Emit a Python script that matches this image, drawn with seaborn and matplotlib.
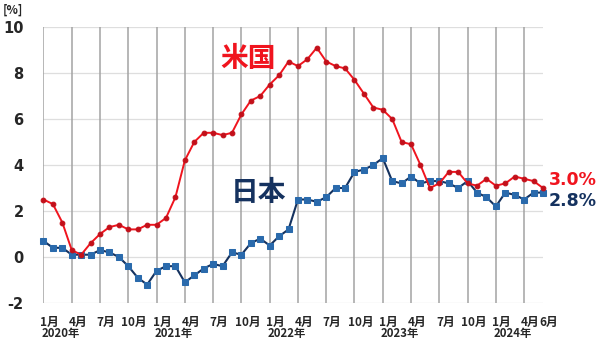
import matplotlib
matplotlib.use("Agg")
import matplotlib.pyplot as plt
import matplotlib.transforms as mtransforms
import pandas as pd
import seaborn as sns

# ---- data ----
years = [2020] * 12 + [2021] * 12 + [2022] * 12 + [2023] * 12 + [2024] * 6
month_nums = list(range(1, 13)) * 4 + list(range(1, 7))
us_cpi = [2.5, 2.3, 1.5, 0.3, 0.1, 0.6, 1.0, 1.3, 1.4, 1.2, 1.2, 1.4,
          1.4, 1.7, 2.6, 4.2, 5.0, 5.4, 5.4, 5.3, 5.4, 6.2, 6.8, 7.0,
          7.5, 7.9, 8.5, 8.3, 8.6, 9.1, 8.5, 8.3, 8.2, 7.7, 7.1, 6.5,
          6.4, 6.0, 5.0, 4.9, 4.0, 3.0, 3.2, 3.7, 3.7, 3.2, 3.1, 3.4,
          3.1, 3.2, 3.5, 3.4, 3.3, 3.0]
jp_cpi = [0.7, 0.4, 0.4, 0.1, 0.1, 0.1, 0.3, 0.2, 0.0, -0.4, -0.9, -1.2,
          -0.6, -0.4, -0.4, -1.1, -0.8, -0.5, -0.3, -0.4, 0.2, 0.1, 0.6, 0.8,
          0.5, 0.9, 1.2, 2.5, 2.5, 2.4, 2.6, 3.0, 3.0, 3.7, 3.8, 4.0,
          4.3, 3.3, 3.2, 3.5, 3.2, 3.3, 3.3, 3.2, 3.0, 3.3, 2.8, 2.6,
          2.2, 2.8, 2.7, 2.5, 2.8, 2.8]
series_names = ["米国", "日本"]
end_labels = ["3.0%", "2.8%"]
y_ticks = [-2, 0, 2, 4, 6, 8, 10]

idx = list(range(len(years)))
df = pd.DataFrame({
    "idx": idx * 2,
    "value": us_cpi + jp_cpi,
    "country": [series_names[0]] * len(idx) + [series_names[1]] * len(idx),
})

RED = "#f0141e"
RED_DARK = "#c3101a"
NAVY = "#15325f"
BLUE = "#2a6aac"
CJK = ["Noto Sans CJK JP", "DejaVu Sans"]

sns.set_style("white")
plt.rcParams["font.family"] = CJK

fig = plt.figure(figsize=(6.0, 3.42), dpi=100)
ax = fig.add_axes([43 / 600, 1 - 303 / 342, 500 / 600, 276 / 342])

sns.lineplot(data=df[df.country == series_names[0]], x="idx", y="value", ax=ax,
             color=RED, linewidth=1.4, marker="o", markersize=3.4,
             markeredgecolor=RED_DARK, markerfacecolor=RED_DARK,
             clip_on=False, zorder=4)
sns.lineplot(data=df[df.country == series_names[1]], x="idx", y="value", ax=ax,
             color=NAVY, linewidth=1.5, marker="s", markersize=4.3,
             markeredgecolor=BLUE, markerfacecolor=BLUE, clip_on=False, zorder=3)

ax.set_xlim(-0.05, 52.75)
ax.set_ylim(-2, 10)
for s in ax.spines.values():
    s.set_visible(False)

# horizontal gridlines
for yv in y_ticks:
    ax.axhline(yv, color="#dedede", linewidth=0.9, zorder=0)

# x ticks: quarters + final month
tick_pos = [i for i in idx if month_nums[i] in (1, 4, 7, 10)] + [idx[-1]]
for i in tick_pos[:-1]:
    ax.axvline(i, color="#a3a3a3", linewidth=1.1, zorder=1)

ax.set_xticks(tick_pos)
ax.set_xticklabels([f"{month_nums[i]}月" for i in tick_pos], ha="center",
                   va="center", fontsize=8.5, fontweight="bold")
ax.tick_params(axis="x", length=0, pad=14)
shift = mtransforms.ScaledTranslation(6 / 100, 0, fig.dpi_scale_trans)
for t in ax.get_xticklabels():
    t.set_transform(t.get_transform() + shift)

# year labels under January
blend = mtransforms.blended_transform_factory(ax.transData, ax.transAxes)
year_off = mtransforms.ScaledTranslation(-2 / 100, -31 / 100, fig.dpi_scale_trans)
for i in idx:
    if month_nums[i] == 1:
        ax.text(i, 0, f"{years[i]}年", transform=blend + year_off,
                ha="left", va="center", fontsize=8.2, fontweight="bold",
                clip_on=False)

ax.set_yticks(y_ticks)
ax.set_yticklabels([str(v) for v in y_ticks], fontsize=10.5, fontweight="bold",
                   family="DejaVu Sans")
ax.tick_params(axis="y", length=0, pad=14)
ax.set_xlabel("")
ax.set_ylabel("")
if ax.get_legend() is not None:
    ax.get_legend().remove()

fig.text(3 / 600, 1 - 10 / 342, "[%]", fontsize=8.5, fontweight="bold",
         va="center", ha="left")

# series labels
ax.text(21.7, 8.6, series_names[0], color=RED, fontsize=20,
        fontweight="bold", ha="center", va="center")
ax.text(22.8, 2.8, series_names[1], color=NAVY, fontsize=20,
        fontweight="bold", ha="center", va="center")

# end labels
ax.text(53.6, us_cpi[-1] + 0.35, end_labels[0], color=RED, fontsize=12.5,
        fontweight="bold", ha="left", va="center", family="DejaVu Sans")
ax.text(53.6, jp_cpi[-1] - 0.35, end_labels[1], color=NAVY, fontsize=12.5,
        fontweight="bold", ha="left", va="center", family="DejaVu Sans")

fig.savefig("out.png", dpi=100)
